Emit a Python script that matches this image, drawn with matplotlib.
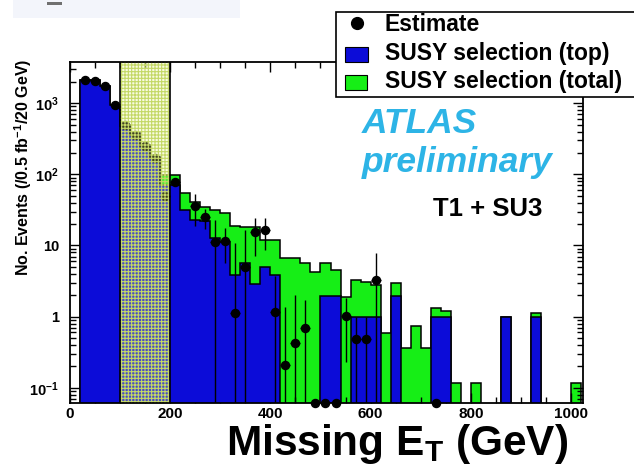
import numpy as np
import matplotlib
matplotlib.use('Agg')
import matplotlib.pyplot as plt
from matplotlib.patches import Rectangle
from matplotlib.lines import Line2D
from matplotlib.ticker import FixedLocator, FixedFormatter, MultipleLocator, LogLocator, NullFormatter

plt.rcParams['font.family'] = ['Liberation Sans', 'DejaVu Sans']
plt.rcParams['font.weight'] = 'bold'
plt.rcParams['mathtext.fontset'] = 'custom'
plt.rcParams['mathtext.rm'] = 'Liberation Sans:bold'
plt.rcParams['mathtext.bf'] = 'Liberation Sans:bold'
plt.rcParams['mathtext.it'] = 'Liberation Sans:bold:italic'
plt.rcParams['mathtext.default'] = 'bf'
plt.rcParams['hatch.linewidth'] = 0.8

# ---------------- data ----------------
bin_edges = np.arange(0, 1021, 20)   # 20 GeV bins, 0 .. 1020 GeV

top_counts = [0, 2150, 2100, 1750, 950, 480, 360, 250, 170, 70,
              71, 32, 23, 22, 12.6, 11.3, 3.8, 5.6, 2.9, 5.0,
              3.8, 0, 0, 0, 0, 1.95, 1.95, 0, 1.0, 1.0,
              1.0, 0, 1.95, 0, 0, 0, 1.0, 1.0, 0, 0,
              0, 0, 0, 1.0, 0, 0, 1.0, 0, 0, 0,
              0]

total_counts = [0, 2150, 2100, 1750, 950, 500, 380, 260, 178, 98,
                98, 54, 41, 35, 32, 29, 19, 18, 18, 12,
                12, 6.6, 6.6, 5.6, 4.3, 5.6, 4.5, 1.9, 3.3, 3.1,
                2.8, 0.58, 3.0, 0.36, 0.73, 0.36, 1.33, 1.2, 0.118, 0,
                0.118, 0, 0, 1.0, 0, 0, 1.14, 0, 0, 0,
                0.118]

est_x = [30, 50, 70, 90, 110, 130, 150, 170, 190, 210,
         250, 270, 290, 310, 330, 350, 370, 390, 410, 430,
         450, 470, 490, 510, 530, 550, 570, 590, 610, 730]
est_y = [2100, 2050, 1750, 950, 500, 360, 250, 168, 49, 78,
         36, 25, 11.3, 11.6, 1.13, 5.0, 15.7, 16.6, 1.17, 0.21,
         0.42, 0.70, 0, 0, 0, 1.03, 0.49, 0.49, 3.27, 0]
est_err = [45, 45, 40, 30, 22, 19, 16, 13, 7, 9,
           17, 8, 11.5, 6, 9.6, 11.6, 8.5, 8, 2.6, 1.16,
           1.6, 1.0, 0, 0, 0, 0.8, 0.51, 0.51, 4.5, 0]

control_region = (100, 200)   # GeV, hatched band

legend_labels = ['Estimate', 'SUSY selection (top)', 'SUSY selection (total)']
xtick_vals = [0, 200, 400, 600, 800, 1000]
ytick_vals = [0.1, 1, 10, 100, 1000]
ytick_labels = ['$10^{-1}$', '1', '10', '$10^{2}$', '$10^{3}$']

# ---------------- figure ----------------
W, H = 634, 466
fig = plt.figure(figsize=(W / 100, H / 100), dpi=100)
ax = fig.add_axes([70 / W, 63 / H, 513 / W, 341 / H])

BLUE = '#0c0cd8'
GREEN = '#16ee16'
YMIN, YMAX = 0.061, 3800
FLOOR = 1e-4

tot = np.array(total_counts, float)
top = np.array(top_counts, float)

ax.stairs(np.where(tot > 0, tot, FLOOR), bin_edges, fill=True, baseline=FLOOR,
          facecolor=GREEN, edgecolor='black', linewidth=1.1, zorder=1)
ax.stairs(np.where(top > 0, top, FLOOR), bin_edges, fill=True, baseline=FLOOR,
          facecolor=BLUE, edgecolor='black', linewidth=1.1, zorder=2)

ex = np.array(est_x, float)
ey = np.array(est_y, float)
ee = np.array(est_err, float)
ax.errorbar(ex, np.where(ey > 0, ey, YMIN), yerr=ee, xerr=10, fmt='none',
            ecolor='black', elinewidth=1.0, capsize=0, zorder=3)
ax.plot(ex, np.where(ey > 0, ey, YMIN), 'o', color='black', ms=5.8,
        clip_on=False, zorder=4)

# hatched control region
ax.axvspan(*control_region, facecolor=(0.90, 0.95, 0.55, 0.28),
           edgecolor='#c4d865', hatch='+++++', linewidth=0, zorder=5)
ax.axvspan(*control_region, fill=False, edgecolor='black', linewidth=1.2, zorder=6)

ax.set_yscale('log')
ax.set_ylim(YMIN, YMAX)
ax.set_xlim(0, 1024)

ax.yaxis.set_major_locator(FixedLocator(ytick_vals))
ax.yaxis.set_major_formatter(FixedFormatter(ytick_labels))
ax.yaxis.set_minor_locator(LogLocator(base=10, subs=np.arange(2, 10)))
ax.yaxis.set_minor_formatter(NullFormatter())
ax.xaxis.set_major_locator(FixedLocator(xtick_vals))
ax.xaxis.set_major_formatter(FixedFormatter([str(v) for v in xtick_vals]))
ax.xaxis.set_minor_locator(MultipleLocator(50))

ax.tick_params(which='both', direction='in', top=True, right=True,
               width=1.0, labelsize=11)
ax.tick_params(axis='y', labelsize=10.5)
ax.tick_params(which='major', length=7)
ax.tick_params(which='minor', length=4.5)
ax.tick_params(axis='y', pad=8)
ax.tick_params(axis='x', pad=3)
for s in ax.spines.values():
    s.set_linewidth(1.3)

ax.set_ylabel('No. Events (/0.5 fb$^{-1}$/20 GeV)', fontsize=11.5, fontweight='bold')
ax.yaxis.set_label_coords(-0.07, 0.692)
ax.set_xlabel('Missing E$_{T}$ (GeV)', fontsize=30.5, fontweight='bold',
              ha='right', va='baseline')
ax.xaxis.set_label_coords(0.971, -0.152)

ax.text(0.569, 0.792, 'ATLAS', transform=ax.transAxes, fontsize=25.5,
        fontweight='bold', style='italic', color='#2db4e6', va='baseline')
ax.text(0.569, 0.677, 'preliminary', transform=ax.transAxes, fontsize=25.5,
        fontweight='bold', style='italic', color='#2db4e6', va='baseline')
ax.text(0.708, 0.548, 'T1 + SU3', transform=ax.transAxes, fontsize=18.5,
        fontweight='bold', color='black', va='baseline')

# faint header remnant at top-left
fig.add_artist(Rectangle((13 / W, 1 - 18 / H), 227 / W, 18 / H, transform=fig.transFigure,
                         facecolor='#f3f5fb', edgecolor='none', zorder=8))
fig.add_artist(Rectangle((47 / W, 1 - 4.5 / H), 15 / W, 2.5 / H, transform=fig.transFigure,
                         facecolor='#707070', edgecolor='none', zorder=9))

# legend box (extends past the right edge, as in the reference)
fig.add_artist(Rectangle((336 / W, 1 - 97 / H), 0.6, 85 / H, transform=fig.transFigure,
                         facecolor='white', edgecolor='black', linewidth=1.2, zorder=10))
fig.add_artist(Line2D([357 / W], [1 - 23 / H], marker='o', color='black', ms=8.5,
                      transform=fig.transFigure, zorder=11))
fig.add_artist(Rectangle((345 / W, 1 - 62 / H), 23 / W, 15 / H, transform=fig.transFigure,
                         facecolor=BLUE, edgecolor='black', linewidth=0.8, zorder=11))
fig.add_artist(Rectangle((345 / W, 1 - 90 / H), 22 / W, 15 / H, transform=fig.transFigure,
                         facecolor=GREEN, edgecolor='black', linewidth=0.8, zorder=11))
for lab, yb in zip(legend_labels, [30.7, 60, 88.3]):
    fig.text(385 / W, 1 - yb / H, lab, fontsize=16.5, fontweight='bold',
             va='baseline', ha='left', zorder=12)

fig.savefig('out.png', dpi=100)
